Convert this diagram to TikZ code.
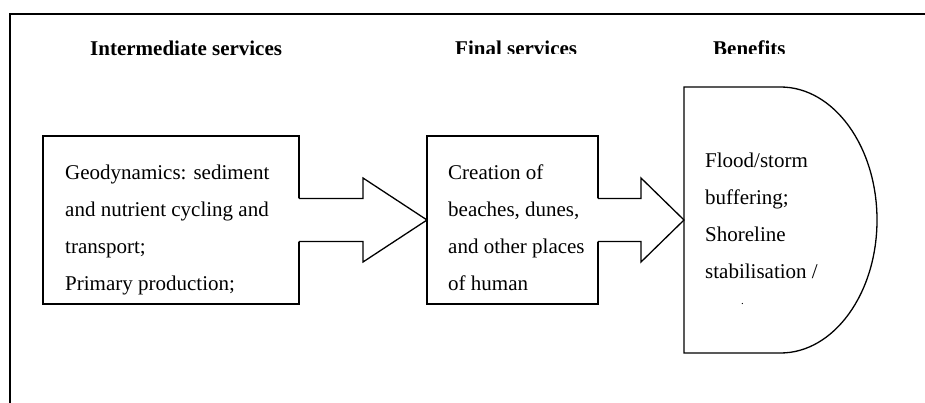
\documentclass[tikz,border=0pt]{standalone}
\usepackage{fontspec}
\setmainfont{Liberation Serif}
\usetikzlibrary{positioning,calc}

\begin{document}
\begin{tikzpicture}[x=1pt, y=1pt,
  box/.style={draw, line width=1.3pt, outer sep=0pt, inner sep=0pt},
  outline/.style={line width=1.3pt, line join=miter},
  boxtext/.style={inner sep=0pt, align=left, font=\fontsize{21}{37}\selectfont},
  heading/.style={inner sep=0pt, anchor=base west, font=\fontsize{21}{25}\selectfont\bfseries}
]
  \useasboundingbox (0,0) rectangle (925,-403);
  % outer frame
  \draw[line width=2pt] (925,-14) -- (10,-14) -- (10,-403);
  % column headings
  \node[heading] (h-inter) at (90,-56) {Intermediate services};
  \begin{scope}
    \clip (430,-30) rectangle (925,-53.5);
    \node[heading] (h-final) at (455,-56) {Final services};
    \node[heading] (h-benefit) at (713,-56) {Benefits};
  \end{scope}
  % boxes
  \node[box, minimum width=256pt, minimum height=168pt] (inter) at (171,-220) {};
  \node[box, minimum width=171pt, minimum height=168pt] (final) at (512.5,-220) {};
  \node[inner sep=0pt, outer sep=0pt, minimum width=193pt, minimum height=266pt] (benefit) at (780.5,-220) {};
  \draw[outline] (benefit.north west) -- (benefit.north)
    arc[start angle=90, end angle=-90, x radius=96.5, y radius=133]
    -- (benefit.south west) -- cycle;
  % block arrows
  \foreach \src/\dst/\hl in {inter/final/64, final/benefit/43} {
    \fill[white] ($(\src.east)+(-1.5,21.5)$) -- ($(\dst.west)+(-\hl,21.5)$)
      -- ($(\dst.west)+(-\hl,42)$) -- (\dst.west) -- ($(\dst.west)+(-\hl,-42)$)
      -- ($(\dst.west)+(-\hl,-21.5)$) -- ($(\src.east)+(-1.5,-21.5)$) -- cycle;
    \draw[outline] ($(\src.east)+(0,21.5)$) -- ($(\dst.west)+(-\hl,21.5)$)
      -- ($(\dst.west)+(-\hl,42)$) -- (\dst.west) -- ($(\dst.west)+(-\hl,-42)$)
      -- ($(\dst.west)+(-\hl,-21.5)$) -- ($(\src.east)+(0,-21.5)$);
  }
  % box texts
  \node[boxtext, anchor=north west, below right=28.7pt and 22pt of inter.north west] (t-inter)
    {Geodynamics: sediment\\ and nutrient cycling and\\ transport;\\ Primary production;};
  \node[boxtext, anchor=north west, below right=28.7pt and 21pt of final.north west] (t-final)
    {Creation of\\ beaches, dunes,\\ and other places\\ of human};
  \node[boxtext, anchor=north west, below right=65.7pt and 21pt of benefit.north west] (t-benefit)
    {Flood/storm\\ buffering;\\ Shoreline\\ stabilisation /\\[-11pt]
     \hspace*{36pt}{\fontsize{11}{11}\selectfont .}};
\end{tikzpicture}
\end{document}
